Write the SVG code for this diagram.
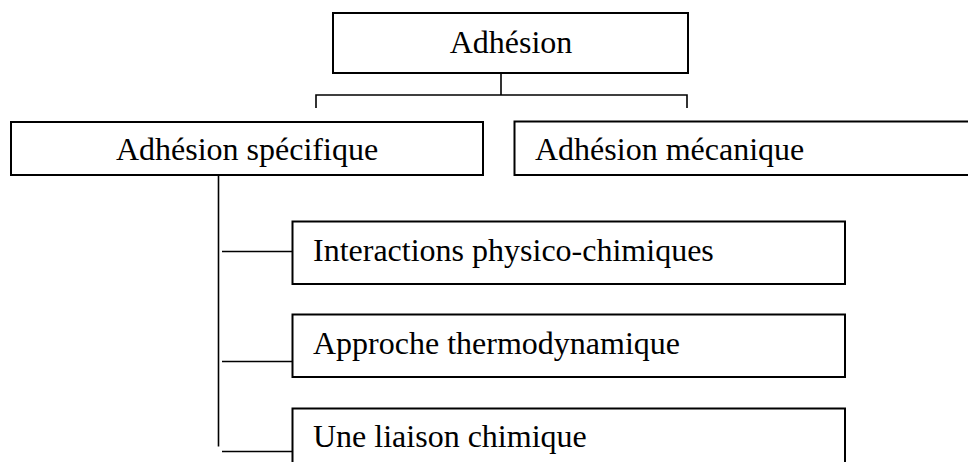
<svg xmlns="http://www.w3.org/2000/svg" width="968" height="462" viewBox="0 0 968 462">
<style>
.box{fill:#fff;stroke:#000;stroke-width:2}
.t{font-family:"Liberation Serif","Times New Roman",serif;font-size:32px;fill:#000}
.c{text-anchor:middle}
.ln{fill:none;stroke:#000;stroke-width:1.6}
</style>
<rect width="968" height="462" fill="#fff"/>
<g id="connectors">
<path class="ln" d="M501 73 V95 M316 108 V95 H687 V108"/>
<path class="ln" d="M218.5 175 V446.5"/>
<path class="ln" d="M222 251.5 H292"/>
<path class="ln" d="M222 361.5 H292"/>
<path class="ln" d="M222 451.5 H292"/>
</g>
<g id="node-adhesion">
<rect class="box" x="333" y="13" width="355" height="60"/>
<text class="t c" x="511" y="53">Adhésion</text>
</g>
<g id="node-specifique">
<rect class="box" x="11" y="122" width="472" height="53"/>
<text class="t c" x="247" y="160">Adhésion spécifique</text>
</g>
<g id="node-mecanique">
<rect class="box" x="514.5" y="121.5" width="470" height="53.5"/>
<text class="t" x="535" y="160">Adhésion mécanique</text>
</g>
<g id="node-interactions">
<rect class="box" x="292.5" y="221.5" width="552.5" height="62.5"/>
<text class="t" x="313" y="261">Interactions physico-chimiques</text>
</g>
<g id="node-approche">
<rect class="box" x="292.5" y="314.5" width="552.5" height="62.5"/>
<text class="t" x="313" y="353.5">Approche thermodynamique</text>
</g>
<g id="node-liaison">
<rect class="box" x="292.5" y="408.5" width="552.5" height="70"/>
<text class="t" x="313" y="447">Une liaison chimique</text>
</g>
</svg>
